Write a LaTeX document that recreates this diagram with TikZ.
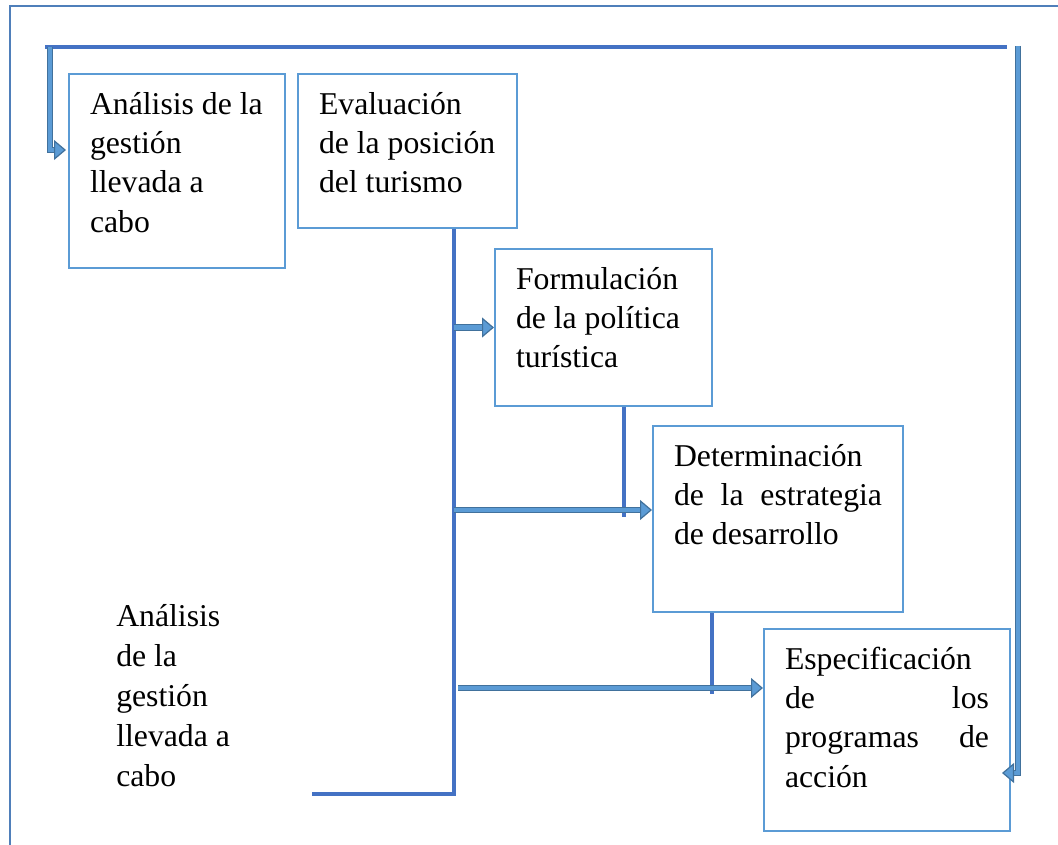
\documentclass[tikz,border=0pt]{standalone}
\usepackage{fontspec}
\setmainfont{Liberation Serif}
\usetikzlibrary{arrows.meta,calc}
\definecolor{framecol}{HTML}{4F7FBA}
\definecolor{boxcol}{HTML}{5B9BD5}
\definecolor{spinecol}{HTML}{4472C4}
\definecolor{arrowline}{HTML}{41719C}
\definecolor{arrowfill}{HTML}{5B9BD5}
\newcommand{\stagetext}[3]{\parbox[t][#2][t]{#1}{\raggedright\strut #3}}
\tikzset{
  stage/.style={draw=boxcol, line width=1.5pt, anchor=north west,
    inner xsep=15.75pt, inner ysep=9.4pt, font=\fontsize{23.8}{29.5}\selectfont},
  spine/.style={draw=spinecol, line width=2.4pt},
  dblarrow/.style={draw=arrowline, line width=0.9pt, double=arrowfill,
    double distance=3.2pt, -{Triangle[length=9pt,width=15pt,fill=arrowfill]}}
}
\begin{document}
\begin{tikzpicture}[x=0.75pt,y=-0.75pt]
  \useasboundingbox (0,0) rectangle (1058,845);
  \draw[framecol, line width=1.5pt] (10,870) |- (1080,6);
  \node[stage] (b1) at (68,73) {\stagetext{130.5pt}{126.7pt}{An\'alisis de la\\ gesti\'on\\ llevada a\\ cabo}};
  \node[stage] (b2) at (297,73) {\stagetext{132.75pt}{96.7pt}{Evaluaci\'on\\ de la posici\'on\\ del turismo}};
  \node[stage] (b3) at (494,248) {\stagetext{131.25pt}{98.95pt}{Formulaci\'on\\ de la pol\'itica\\ tur\'istica}};
  \node[stage] (b4) at (652,425) {\stagetext{156pt}{120.7pt}{Determinaci\'on\\ de\hfill la\hfill estrategia\\ de desarrollo}};
  \node[stage] (b5) at (763,628) {\stagetext{153pt}{132.7pt}{Especificaci\'on\\ de\hfill los\\ programas\hfill de\\ acci\'on}};
  \node[anchor=north west, inner sep=0pt, align=left, font=\fontsize{23.8}{30}\selectfont]
    (fb) at (116,598) {\strut An\'alisis\\ de la\\ gesti\'on\\ llevada a\\ cabo};
  % main line
  \draw[spine] (b2.south west) ++(157,0) coordinate (s0) -- ++(0,565) coordinate (s1) -- ++(-142,0) coordinate (s2);
  \coordinate (a4) at ($(b4.north west)+(0,85)$);
  \coordinate (a5) at ($(b5.north west)+(0,60)$);
  \draw[spine] (b3.south west) ++(130,0) -- ++(0,110);
  \draw[spine] (b4.south west) ++(60,0) -- ++(0,81);
  \draw[dblarrow] (s0 |- b3.west) -- (b3.west);
  \draw[dblarrow] (s0 |- a4) -- (a4);
  \draw[dblarrow] ($(s0 |- a5)+(4,0)$) -- (a5);
  % feedback loop
  \coordinate (l0) at (45,47);
  \coordinate (l1) at (1007,47);
  \draw[spine] (l0) -- (l1);
  \draw[dblarrow] (50,47) |- ($(b1.north west)+(-2,77)$);
  \draw[dblarrow] (1018,46) |- ($(b5.east)+(-9,43)$);
\end{tikzpicture}
\end{document}
